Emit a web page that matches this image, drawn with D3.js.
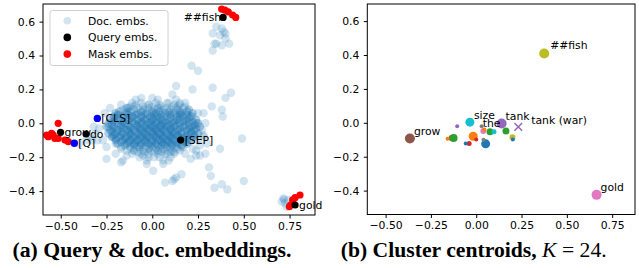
<!DOCTYPE html>
<html>
<head>
<meta charset="utf-8">
<script src="https://cdn.jsdelivr.net/npm/d3@7"></script>
<style>
  body { margin: 0; background: #fff; }
  svg { display: block; }
</style>
</head>
<body>
<div id="chart"></div>
<script>
// doc embeddings (2D projection)
// dense core, written row by row: [y, x values, docs stacked on each spot]
const docCoreRows = [
  [0.12, [-0.06, 0.02, 0.08, 0.15], 1],
  [0.11, [-0.09, -0.02, 0.04, 0.12], 1],
  [0.10, [-0.12, -0.05, 0.0, 0.05, 0.11, 0.18], 1],
  [0.09, [-0.14, -0.08, -0.02, 0.03, 0.08, 0.13, 0.17], 1],
  [0.08, [-0.16, -0.1, -0.04, 0.01, 0.06, 0.1, 0.14, 0.2], 1],
  [0.07, [-0.18, -0.12, -0.06, 0.0, 0.04, 0.09, 0.15, 0.19], 2],
  [0.06, [-0.2, -0.14, -0.08, -0.03, 0.02, 0.07, 0.12, 0.16, 0.22], 2],
  [0.05, [-0.19, -0.13, -0.09, -0.04, 0.01, 0.05, 0.1, 0.15, 0.19], 2],
  [0.04, [-0.21, -0.16, -0.11, -0.06, -0.01, 0.03, 0.08, 0.13, 0.17, 0.21], 2],
  [0.03, [-0.2, -0.15, -0.1, -0.05, 0.0, 0.04, 0.1, 0.15, 0.2], 2],
  [0.02, [-0.23, -0.18, -0.13, -0.08, -0.04, 0.0, 0.05, 0.09, 0.14, 0.19, 0.24], 2],
  [0.01, [-0.21, -0.16, -0.11, -0.06, -0.01, 0.03, 0.07, 0.12, 0.17, 0.22], 2],
  [0.00, [-0.24, -0.19, -0.15, -0.1, -0.06, -0.02, 0.02, 0.06, 0.11, 0.15, 0.2, 0.25], 2],
  [-0.01, [-0.22, -0.17, -0.13, -0.08, -0.03, 0.01, 0.05, 0.09, 0.13, 0.18, 0.23], 2],
  [-0.02, [-0.25, -0.21, -0.17, -0.12, -0.08, -0.04, 0.0, 0.04, 0.08, 0.12, 0.17, 0.22, 0.26], 2],
  [-0.03, [-0.21, -0.16, -0.12, -0.07, -0.03, 0.01, 0.05, 0.1, 0.15, 0.2, 0.24], 2],
  [-0.04, [-0.23, -0.19, -0.14, -0.1, -0.06, -0.02, 0.02, 0.06, 0.1, 0.14, 0.19, 0.23], 2],
  [-0.05, [-0.22, -0.17, -0.13, -0.09, -0.05, 0.0, 0.03, 0.07, 0.11, 0.16, 0.21], 2],
  [-0.06, [-0.24, -0.2, -0.16, -0.12, -0.08, -0.04, 0.0, 0.04, 0.08, 0.12, 0.16, 0.21, 0.25], 2],
  [-0.07, [-0.21, -0.17, -0.12, -0.07, -0.03, 0.01, 0.05, 0.1, 0.14, 0.19, 0.23], 2],
  [-0.08, [-0.22, -0.18, -0.14, -0.1, -0.06, -0.02, 0.02, 0.06, 0.1, 0.14, 0.18, 0.23], 2],
  [-0.09, [-0.2, -0.15, -0.11, -0.07, -0.03, 0.02, 0.06, 0.1, 0.15, 0.19], 2],
  [-0.10, [-0.2, -0.16, -0.12, -0.08, -0.04, 0.0, 0.04, 0.08, 0.12, 0.17, 0.21], 2],
  [-0.11, [-0.17, -0.13, -0.09, -0.04, 0.0, 0.05, 0.09, 0.13, 0.18], 2],
  [-0.12, [-0.19, -0.14, -0.1, -0.06, -0.02, 0.02, 0.06, 0.1, 0.14, 0.19], 2],
  [-0.13, [-0.15, -0.1, -0.06, -0.01, 0.03, 0.07, 0.11, 0.16], 2],
  [-0.14, [-0.17, -0.12, -0.08, -0.04, 0.0, 0.04, 0.08, 0.13, 0.17], 1],
  [-0.15, [-0.12, -0.07, -0.02, 0.02, 0.06, 0.1, 0.14], 1],
  [-0.16, [-0.14, -0.1, -0.05, -0.01, 0.03, 0.07, 0.11, 0.15], 1],
  [-0.17, [-0.08, -0.04, 0.01, 0.05, 0.1], 1],
  [-0.18, [-0.11, -0.06, -0.02, 0.03, 0.08, 0.12], 1],
  [-0.20, [-0.07, -0.02, 0.04, 0.1], 1],
  [-0.22, [-0.03, 0.06], 1]
]
const docPoints = [
  // extra core points
  [-0.24,-0.02],[-0.22,-0.08],[-0.21,0.02],[-0.2,-0.12],[-0.19,-0.05],[-0.18,0.05],[-0.17,-0.15],[-0.16,-0.01],
  [-0.15,-0.09],[-0.14,0.07],[-0.14,-0.19],[-0.13,-0.04],[-0.12,0.03],[-0.12,-0.12],[-0.11,-0.07],[-0.1,0.1],
  [-0.1,-0.16],[-0.09,-0.02],[-0.08,0.05],[-0.08,-0.1],[-0.07,-0.14],[-0.07,0.0],[-0.06,-0.06],[-0.05,0.08],
  [-0.05,-0.19],[-0.04,-0.03],[-0.04,-0.11],[-0.03,0.03],[-0.03,-0.08],[-0.02,-0.15],[-0.02,0.11],[-0.01,-0.05],
  [-0.01,-0.01],[0.0,-0.12],[0.0,0.06],[0.01,-0.08],[0.01,-0.2],[0.02,-0.03],[0.02,0.02],[0.03,-0.1],
  [0.03,-0.16],[0.04,0.09],[0.04,-0.06],[0.05,-0.01],[0.05,-0.13],[0.06,0.04],[0.06,-0.09],[0.07,-0.04],
  [0.07,-0.18],[0.08,0.0],[0.08,-0.11],[0.09,0.12],[0.09,-0.07],[0.1,-0.02],[0.1,-0.14],[0.11,0.06],
  [0.11,-0.09],[0.12,-0.05],[0.12,-0.17],[0.13,0.02],[0.13,-0.12],[0.14,-0.07],[0.14,0.1],[0.15,-0.02],
  [0.16,-0.14],[0.16,0.05],[0.17,-0.09],[0.18,0.01],[0.18,-0.18],[0.19,-0.05],[0.2,0.08],[0.2,-0.11],
  [0.21,-0.02],[0.22,0.04],[0.22,-0.15],[0.23,-0.07],[0.24,0.0],[0.25,-0.1],
  // around the core
  [-0.29,-0.03],[-0.27,-0.1],[-0.26,0.06],[-0.25,-0.14],[-0.23,0.09],[-0.2,-0.18],[-0.17,0.11],[-0.16,-0.22],
  [-0.13,0.09],[-0.09,0.14],[-0.06,0.15],[-0.03,-0.24],[0.0,0.15],[0.03,0.14],[0.06,-0.24],[0.09,-0.22],
  [0.13,0.14],[0.18,0.12],[0.25,0.06],[0.27,-0.04],[0.26,-0.13],[0.28,-0.08],[0.24,-0.19],[0.21,-0.21],
  [-0.31,-0.06],[-0.33,-0.1],[-0.36,-0.1],[-0.4,-0.12],[-0.32,-0.02],[-0.34,-0.08],[-0.3,-0.1],
  [-0.25,-0.21],[-0.17,-0.23],[-0.14,0.09],[-0.11,0.12],
  [0.005,-0.28],[0.07,-0.35],[0.11,-0.34],[0.13,-0.32],[0.16,-0.3],[0.12,-0.33],
  [0.325,0.1],[0.38,0.08],[0.385,0.04],[0.28,0.06],[0.29,0.0],[0.28,-0.07],[0.3,-0.12],[0.24,-0.16],
  [0.49,-0.09],[0.37,-0.15],[0.31,-0.26],[0.32,-0.31],[0.38,-0.36],[0.34,-0.38],[0.41,-0.39],[0.5,-0.34],
  [0.26,-0.19],[0.29,-0.18],
  // upward arm
  [0.11,0.17],[0.15,0.11],[0.13,0.22],[0.22,0.2],[0.33,0.21],[0.43,0.18],[0.4,0.15],[0.215,0.34],[0.25,0.31],
  [0.35,0.57],[0.38,0.56],[0.4,0.53],[0.33,0.53],[0.39,0.54],[0.35,0.47],[0.38,0.46],[0.42,0.47],[0.33,0.43],
  [0.4,0.5],[0.34,0.47],[0.37,0.52],
  // gold corner
  [0.716,-0.443],[0.725,-0.472],[0.743,-0.452],[0.707,-0.462],[0.734,-0.492],[0.72,-0.45]
]
const queryPoints = [
  [0.387,0.625],[-0.501,-0.053],[-0.362,-0.063],[0.155,-0.099],[0.78,-0.482]
]
const maskPoints = [
  [0.379,0.674],[0.397,0.668],[0.415,0.658],[0.439,0.639],[0.456,0.625],
  [-0.514,0.0],[-0.55,-0.059],[-0.568,-0.079],[-0.532,-0.089],[-0.541,-0.069],
  [-0.514,-0.089],[-0.477,-0.099],[-0.459,-0.108],[-0.577,-0.069],
  [0.807,-0.423],[0.78,-0.439],[0.767,-0.452],[0.756,-0.482],[0.749,-0.492]
]
const specialPoints = [[-0.3,0.029],[-0.426,-0.118]]
const tokenLabels = [
  {t: "##fish", x: 0.387, y: 0.625, end: true},
  {t: "grow", x: -0.501, y: -0.053},
  {t: "do", x: -0.362, y: -0.063},
  {t: "[CLS]", x: -0.3, y: 0.029},
  {t: "[Q]", x: -0.426, y: -0.118},
  {t: "[SEP]", x: 0.155, y: -0.099},
  {t: "gold", x: 0.78, y: -0.482}
]

// cluster centroids: x, y, radius, colour
const centroidX = [-0.366, 0.375, 0.664, -0.035, 0.14, 0.052, -0.017, 0.076, 0.164, -0.136, -0.125, -0.105, -0.158, -0.039, -0.058, 0.0, 0.03, 0.039, 0.098, 0.2, 0.202, 0.04, 0.045, 0.232]
const centroidY = [-0.093, 0.409, -0.425, 0.004, -0.004, -0.124, -0.079, -0.053, -0.049, -0.09, -0.09, -0.02, -0.094, -0.122, -0.122, -0.098, -0.02, -0.049, -0.053, -0.085, -0.098, -0.1, -0.04, -0.024]
const centroidSize = [5, 5, 5, 4.5, 5, 4.5, 4.5, 3.5, 3.5, 3, 4, 2, 2, 2.5, 2, 2, 2, 3, 2.5, 3, 2, 2, 2, 0]
const centroidColor = ["#8c564b","#bcbd22","#e377c2","#17becf","#9467bd","#1f77b4","#ff7f0e","#2ca02c","#2ca02c","#8c564b","#2ca02c","#9467bd","#ff7f0e","#d62728","#1f77b4","#d62728","#7f7f7f","#e377c2","#17becf","#bcbd22","#1f77b4","#7f7f7f","#ff7f0e","#9467bd"]
const centroidLabels = [
  {t: "grow", i: 0, dx: 4, dy: -4},
  {t: "##fish", i: 1, dx: 6, dy: -4},
  {t: "gold", i: 2, dx: 4, dy: -4},
  {t: "size", i: 3, dx: 4, dy: -3},
  {t: "the", i: 16, dx: 1, dy: 1},
  {t: "tank", i: 4, dx: 4, dy: -3},
  {t: "tank (war)", i: 23, dx: 13, dy: -3}
]

const xTicks = [-0.5, -0.25, 0, 0.25, 0.5, 0.75]
const yTicks = [-0.4, -0.2, 0, 0.2, 0.4, 0.6]

const width = 639
const height = 268
const font = "DejaVu Sans, sans-serif"
const docAlpha = 0.2
const fmtX = d => d3.format(".2f")(d).replace("-", "\u2212")
const fmtY = d => d3.format(".1f")(d).replace("-", "\u2212")

const svg = d3.select("#chart")
  .append("svg")
    .attr("width", width)
    .attr("height", height)

function makePanel(box, xDom, yDom){
  const x = d3.scaleLinear().domain(xDom).range([box.left, box.right])
  const y = d3.scaleLinear().domain(yDom).range([box.bottom, box.top])
  const g = svg.append("g")

  g.append("g")
    .attr("transform", `translate(0, ${box.bottom})`)
    .call(d3.axisBottom(x).tickValues(xTicks).tickFormat(fmtX).tickSize(3.5).tickPadding(3.5))
    .call(a => a.select(".domain").remove())
    .call(a => a.selectAll("text").style("font-family", font).style("font-size", "10.8px").attr("fill", "#000"))
  g.append("g")
    .attr("transform", `translate(${box.left}, 0)`)
    .call(d3.axisLeft(y).tickValues(yTicks).tickFormat(fmtY).tickSize(3.5).tickPadding(4.5))
    .call(a => a.select(".domain").remove())
    .call(a => a.selectAll("text").style("font-family", font).style("font-size", "10.8px").attr("fill", "#000"))

  const plot = g.append("g")
  g.append("rect")
    .attr("x", box.left).attr("y", box.top)
    .attr("width", box.right - box.left).attr("height", box.bottom - box.top)
    .attr("fill", "none").attr("stroke", "#000").attr("stroke-width", 1)
  return {x, y, plot, g}
}

// (a) query & doc embeddings
const a = makePanel({left: 43, right: 315, top: 4, bottom: 215}, [-0.597, 0.889], [-0.541, 0.704])

// [x, y, n] where n docs sit on the same spot (alpha stacks like n marks)
const allDocs = docCoreRows.flatMap(r => r[1].map(v => [v, r[0], r[2]]))
  .concat(docPoints.map(p => [p[0], p[1], 1]))

a.plot.selectAll(".doc")
  .data(allDocs)
  .enter().append("circle")
    .attr("cx", d => a.x(d[0]))
    .attr("cy", d => a.y(d[1]))
    .attr("r", 4.2)
    .attr("fill", "#1f77b4")
    .attr("fill-opacity", d => 1 - Math.pow(1 - docAlpha, d[2]))

a.plot.selectAll(".mask")
  .data(maskPoints)
  .enter().append("circle")
    .attr("cx", d => a.x(d[0]))
    .attr("cy", d => a.y(d[1]))
    .attr("r", 3.6)
    .attr("fill", "#ff0000")

a.plot.selectAll(".query")
  .data(queryPoints)
  .enter().append("circle")
    .attr("cx", d => a.x(d[0]))
    .attr("cy", d => a.y(d[1]))
    .attr("r", 3.6)
    .attr("fill", "#000")

a.plot.selectAll(".special")
  .data(specialPoints)
  .enter().append("circle")
    .attr("cx", d => a.x(d[0]))
    .attr("cy", d => a.y(d[1]))
    .attr("r", 3.7)
    .attr("fill", "#0000ff")

a.plot.selectAll(".tok")
  .data(tokenLabels)
  .enter().append("text")
    .attr("x", d => a.x(d.x) + (d.end ? -2 : 4))
    .attr("y", d => a.y(d.y) + 3.8)
    .attr("text-anchor", d => d.end ? "end" : "start")
    .style("font-family", font)
    .style("font-size", "10.8px")
    .text(d => d.t)

// legend
const legendItems = [
  {t: "Doc. embs.", c: "#1f77b4", o: docAlpha},
  {t: "Query embs.", c: "#000", o: 1},
  {t: "Mask embs.", c: "#ff0000", o: 1}
]
const legend = a.g.append("g")
legend.append("rect")
  .attr("x", 50).attr("y", 10.5).attr("width", 118).attr("height", 55)
  .attr("rx", 2.5)
  .attr("fill", "#fff").attr("fill-opacity", 0.8)
  .attr("stroke", "#d0d0d0").attr("stroke-width", 1)
legendItems.forEach((d, i) => {
  legend.append("circle")
    .attr("cx", 67.3).attr("cy", 20.7 + i * 16.7)
    .attr("r", 3.8)
    .attr("fill", d.c).attr("fill-opacity", d.o)
  legend.append("text")
    .attr("x", 88).attr("y", 20.7 + i * 16.7 + 3.9)
    .style("font-family", font).style("font-size", "10.8px")
    .text(d.t)
})

// (b) cluster centroids
const b = makePanel({left: 367.3, right: 635, top: 4, bottom: 214.5}, [-0.601, 0.876], [-0.541, 0.701])

const cIdx = d3.range(centroidX.length)
b.plot.selectAll(".cen")
  .data(cIdx.filter(i => centroidSize[i] > 0))
  .enter().append("circle")
    .attr("cx", i => b.x(centroidX[i]))
    .attr("cy", i => b.y(centroidY[i]))
    .attr("r", i => centroidSize[i])
    .attr("fill", i => centroidColor[i])

// the "tank (war)" centroid is drawn as an x
const xi = 23
b.plot.append("path")
  .attr("d", d3.symbol(d3.symbolX, 40)())
  .attr("transform", `translate(${b.x(centroidX[xi])}, ${b.y(centroidY[xi])})`)
  .attr("stroke", centroidColor[xi])
  .attr("stroke-width", 1.5)

b.plot.selectAll(".clab")
  .data(centroidLabels)
  .enter().append("text")
    .attr("x", d => b.x(centroidX[d.i]) + d.dx)
    .attr("y", d => b.y(centroidY[d.i]) + d.dy)
    .style("font-family", font)
    .style("font-size", "10.8px")
    .text(d => d.t)

// captions
const capFont = "Liberation Serif, serif"
svg.append("text")
  .attr("x", 152).attr("y", 257)
  .attr("text-anchor", "middle")
  .attr("textLength", 279).attr("lengthAdjust", "spacingAndGlyphs")
  .style("font-family", capFont).style("font-weight", "bold").style("font-size", "20px")
  .text("(a) Query & doc. embeddings.")

const capB = svg.append("text")
  .attr("x", 473.7).attr("y", 257)
  .attr("text-anchor", "middle")
  .attr("textLength", 266).attr("lengthAdjust", "spacingAndGlyphs")
  .style("font-family", capFont).style("font-weight", "bold").style("font-size", "20px")
capB.append("tspan").text("(b) Cluster centroids, ")
capB.append("tspan").style("font-style", "italic").style("font-weight", "normal").text("K")
capB.append("tspan").style("font-weight", "normal").text(" = 24.")
</script>
</body>
</html>
